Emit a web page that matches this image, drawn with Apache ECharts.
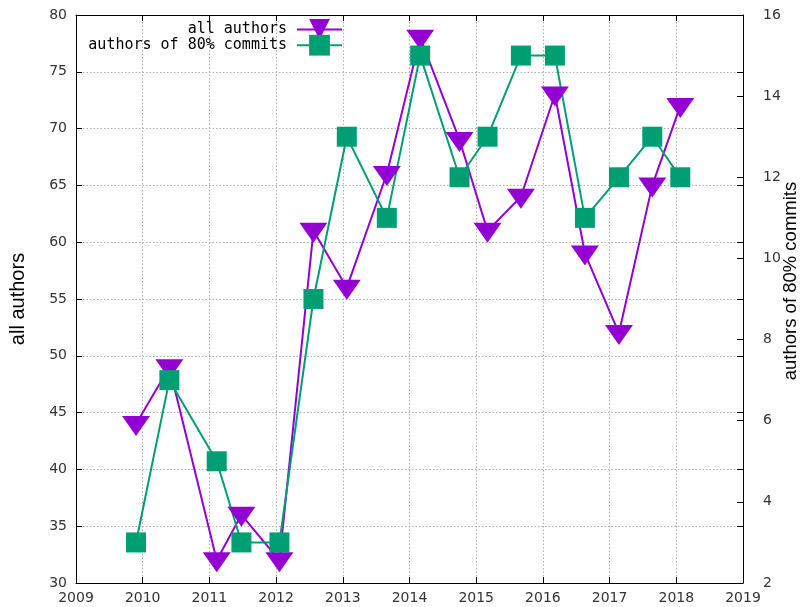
<!DOCTYPE html>
<html><head><meta charset="utf-8">
<script src="https://cdn.jsdelivr.net/npm/echarts@6/dist/echarts.min.js"></script>
<style>html,body{margin:0;padding:0;background:#fff}#c{width:803px;height:607px}</style>
</head><body><div id="c"></div>
<script>
// release dates (decimal years)
const releaseDates = [2009.90, 2010.40, 2011.11, 2011.48, 2012.05, 2012.56, 2013.06, 2013.66, 2014.16, 2014.75, 2015.17, 2015.67, 2016.18, 2016.63, 2017.14, 2017.64, 2018.06];
const allAuthors = [44, 49, 32, 36, 32, 61, 56, 66, 78, 69, 61, 64, 73, 59, 52, 65, 72];
const authors80 = [3, 7, 5, 3, 3, 9, 13, 11, 15, 12, 13, 15, 15, 11, 12, 13, 12];
const seriesNames = ['all authors', 'authors of 80% commits'];

const purple = '#9400d3', green = '#009e73';
const tickFont = {color: '#333', fontFamily: 'DejaVu Sans', fontSize: 14};
const gridLine = {show: true, lineStyle: {color: '#b0b0b0', width: 1, type: [1.5, 2]}};
const border = {show: true, lineStyle: {color: '#000', width: 1}};
const tickIn = {show: true, inside: true, length: 6, lineStyle: {color: '#000', width: 1}};

const chart = echarts.init(document.getElementById('c'), null, {renderer: 'canvas'});
chart.setOption({
  animation: false,
  backgroundColor: '#fff',
  grid: {left: 76, right: 60, top: 15, bottom: 24, containLabel: false, outerBoundsMode: 'none'},
  legend: {
    orient: 'vertical', right: 460, top: 19, align: 'right', padding: 0,
    itemWidth: 45, itemHeight: 26, itemGap: -5,
    textStyle: {fontFamily: 'DejaVu Sans Mono', fontSize: 15, color: '#000', padding: [0, 5, 0, 0]},
    data: seriesNames
  },
  xAxis: [
    {type: 'value', min: 2009, max: 2019, interval: 1, position: 'bottom',
     axisLine: border, axisTick: tickIn,
     axisLabel: Object.assign({margin: 8, formatter: v => String(v)}, tickFont),
     splitLine: gridLine},
    {type: 'value', min: 2009, max: 2019, interval: 1, position: 'top',
     axisLine: border, axisTick: tickIn, axisLabel: {show: false}, splitLine: {show: false}}
  ],
  yAxis: [
    {type: 'value', min: 30, max: 80, interval: 5, position: 'left',
     name: 'all authors', nameLocation: 'middle', nameGap: 48, nameRotate: 90,
     nameTextStyle: {fontFamily: 'Liberation Sans', fontSize: 20, color: '#000'},
     axisLine: border, axisTick: tickIn,
     axisLabel: Object.assign({margin: 9, formatter: v => String(v)}, tickFont),
     splitLine: gridLine},
    {type: 'value', min: 2, max: 16, interval: 2, position: 'right',
     name: 'authors of 80% commits', nameLocation: 'middle', nameGap: 38, nameRotate: 90,
     nameMoveOverlap: false,
     nameTextStyle: {fontFamily: 'Liberation Sans', fontSize: 18.5, color: '#000', padding: [0, 0, 0, 36]},
     axisLine: border, axisTick: tickIn,
     axisLabel: Object.assign({margin: 20, formatter: v => String(v)}, tickFont),
     splitLine: {show: false}},
    {type: 'value', min: 30, max: 80, interval: 5, position: 'right',
     axisLine: {show: false}, axisTick: tickIn, axisLabel: {show: false}, splitLine: {show: false}}
  ],
  series: [
    {name: seriesNames[0], type: 'line', xAxisIndex: 0, yAxisIndex: 0,
     data: releaseDates.map((d, i) => [d, allAuthors[i]]),
     symbol: 'triangle', symbolRotate: 180, symbolSize: [28, 20], symbolOffset: [0, 2],
     showAllSymbol: true,
     lineStyle: {color: purple, width: 2}, itemStyle: {color: purple},
     emphasis: {disabled: true}},
    {name: seriesNames[1], type: 'line', xAxisIndex: 0, yAxisIndex: 1,
     data: releaseDates.map((d, i) => [d, authors80[i]]),
     symbol: 'rect', symbolSize: 20, showAllSymbol: true,
     lineStyle: {color: green, width: 2}, itemStyle: {color: green},
     emphasis: {disabled: true}}
  ]
});
</script></body></html>
